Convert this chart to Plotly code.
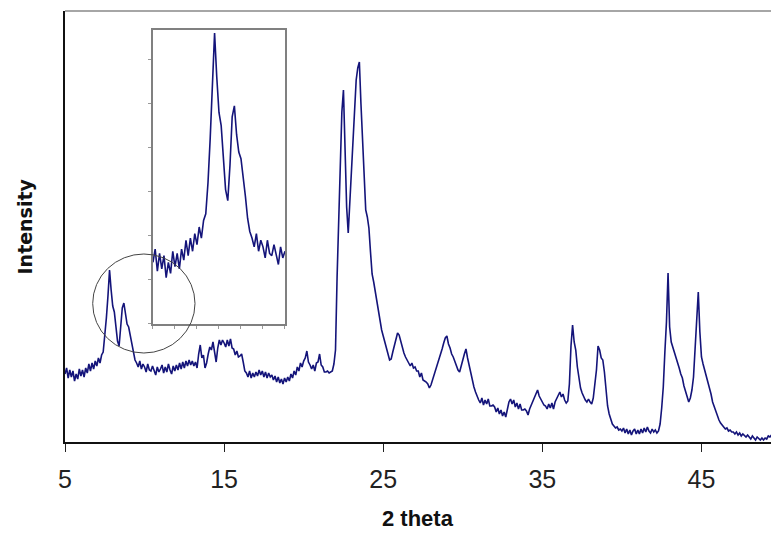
import numpy as np
import plotly.graph_objects as go

# 2-theta sampling grid (degrees), 0.1 deg step
TWO_THETA_START = 5.0
TWO_THETA_STEP = 0.1

# Intensity (arbitrary units), one row per degree
INTENSITY = [
    68, 74, 64, 72, 65, 71, 61, 68, 63, 73,            # 5
    66, 72, 65, 74, 69, 78, 71, 79, 73, 81,            # 6
    76, 84, 79, 87, 90, 104, 124, 146, 172, 152,       # 7
    136, 130, 117, 101, 96, 112, 134, 139, 126, 118,   # 8
    115, 107, 98, 88, 82, 79, 75, 81, 73, 78,          # 9
    75, 70, 78, 72, 71, 76, 71, 67, 75, 70,            # 10
    73, 77, 69, 75, 70, 78, 72, 68, 76, 71,            # 11
    77, 72, 79, 73, 80, 74, 81, 76, 82, 77,            # 12
    81, 76, 80, 74, 88, 97, 84, 87, 74, 79,            # 13
    88, 95, 92, 100, 90, 80, 94, 102, 97, 102,         # 14
    99, 95, 102, 96, 103, 94, 93, 87, 91, 85,          # 15
    86, 88, 80, 71, 69, 65, 71, 64, 69, 65,            # 16
    70, 66, 72, 67, 71, 65, 70, 64, 69, 65,            # 17
    67, 62, 66, 60, 65, 59, 63, 58, 64, 60,            # 18
    65, 61, 68, 64, 71, 67, 75, 71, 79, 75,            # 19
    81, 84, 91, 80, 77, 73, 77, 71, 79, 80,            # 20
    88, 77, 75, 70, 70, 71, 69, 70, 71, 78,            # 21
    92, 165, 228, 285, 330, 352, 278, 235, 209, 240,   # 22
    275, 310, 345, 362, 374, 380, 338, 300, 255, 232,  # 23
    225, 214, 190, 168, 160, 150, 142, 132, 120, 112,  # 24
    106, 99, 95, 88, 82, 83, 90, 97, 104, 109,         # 25
    107, 100, 94, 89, 85, 82, 80, 76, 79, 74,          # 26
    75, 71, 71, 65, 69, 62, 61, 60, 58, 54,            # 27
    57, 62, 66, 72, 76, 82, 88, 93, 99, 104,           # 28
    106, 98, 94, 88, 85, 80, 76, 72, 70, 75,           # 29
    82, 88, 93, 84, 76, 68, 62, 55, 50, 45,            # 30
    42, 39, 44, 37, 42, 38, 43, 36, 36, 37,            # 31
    35, 30, 34, 28, 32, 26, 30, 25, 33, 40,            # 32
    43, 38, 42, 35, 39, 33, 38, 32, 32, 33,            # 33
    31, 27, 33, 37, 42, 46, 50, 52, 46, 43,            # 34
    40, 37, 36, 33, 38, 34, 39, 33, 40, 44,            # 35
    47, 50, 45, 48, 42, 39, 41, 58, 96, 117,           # 36
    100, 92, 75, 62, 54, 49, 45, 42, 40, 43,           # 37
    40, 38, 44, 56, 72, 96, 92, 84, 82, 70,            # 38
    52, 36, 28, 22, 18, 16, 14, 15, 12, 13,            # 39
    11, 14, 9, 13, 8, 12, 7, 11, 13, 8,                # 40
    12, 8, 13, 9, 14, 10, 15, 11, 9, 13,               # 41
    10, 12, 9, 11, 18, 34, 55, 90, 120, 169,           # 42
    115, 100, 95, 90, 86, 80, 74, 68, 64, 56,          # 43
    50, 45, 40, 44, 52, 65, 92, 125, 150, 110,         # 44
    85, 78, 72, 66, 62, 55, 48, 40, 35, 30,            # 45
    26, 22, 19, 17, 15, 13, 14, 11, 12, 10,            # 46
    10, 8, 10, 7, 9, 6, 8, 6, 5, 7,                    # 47
    5, 3, 6, 4, 2, 5, 3, 2, 4, 2,                      # 48
    4, 3, 6, 5, 7,                                     # 49
]

X_TICKS = [5, 15, 25, 35, 45]
X_TICK_LABELS = ["5", "15", "25", "35", "45"]
X_RANGE = [5, 49.37]
Y_RANGE = [0, 431]

# Inset (zoom of the low-angle double peak)
INSET_X_RANGE = [5, 11]
INSET_Y_RANGE = [40, 173.4]

# Highlight circle around the low-angle peaks (data units)
CIRCLE_X = [6.74, 13.17]
CIRCLE_Y = [89, 188]

LINE_COLOR = "#14147a"

two_theta = np.round(TWO_THETA_START + TWO_THETA_STEP * np.arange(len(INTENSITY)), 2)
intensity = np.array(INTENSITY, dtype=float)

mask = (two_theta >= INSET_X_RANGE[0]) & (two_theta <= INSET_X_RANGE[1])

fig = go.Figure()
fig.add_trace(go.Scatter(x=two_theta, y=intensity, mode="lines",
                         line=dict(color=LINE_COLOR, width=1.6),
                         xaxis="x", yaxis="y", showlegend=False))
fig.add_trace(go.Scatter(x=two_theta[mask], y=intensity[mask], mode="lines",
                         line=dict(color=LINE_COLOR, width=1.6),
                         xaxis="x2", yaxis="y2", showlegend=False))

LABEL_FONT = "Liberation Sans Narrow, Arial Narrow, Liberation Sans, Arial"

fig.update_layout(
    width=771, height=533,
    margin=dict(l=65, r=0, t=11, b=91),
    paper_bgcolor="white", plot_bgcolor="white",
    xaxis=dict(range=X_RANGE, tickvals=X_TICKS, ticktext=X_TICK_LABELS,
               ticks="outside", ticklen=8, tickcolor="#222", tickwidth=1,
               showline=True, linecolor="#111", linewidth=1.5,
               showgrid=False, zeroline=False,
               tickfont=dict(family=LABEL_FONT, size=25, color="#222"),
               ticklabelstandoff=6),
    yaxis=dict(range=Y_RANGE, showticklabels=False, ticks="",
               showline=True, linecolor="#111", linewidth=1.5,
               showgrid=False, zeroline=False),
    xaxis2=dict(domain=[0.1246, 0.3116], anchor="y2", range=INSET_X_RANGE,
                tick0=5, dtick=1, ticks="outside", ticklen=3, tickcolor="#999",
                showticklabels=False, showline=True, mirror=True,
                linecolor="#808080", linewidth=2, showgrid=False, zeroline=False),
    yaxis2=dict(domain=[0.2738, 0.9559], anchor="x2", range=INSET_Y_RANGE,
                tick0=40, dtick=20, ticks="outside", ticklen=3, tickcolor="#999",
                showticklabels=False, showline=True, mirror=True,
                linecolor="#808080", linewidth=2, showgrid=False, zeroline=False),
    shapes=[
        dict(type="line", xref="paper", yref="paper", x0=0, x1=1, y0=1, y1=1,
             line=dict(color="#888", width=1.5)),
        dict(type="circle", xref="x", yref="y",
             x0=CIRCLE_X[0], x1=CIRCLE_X[1], y0=CIRCLE_Y[0], y1=CIRCLE_Y[1],
             line=dict(color="#444", width=1)),
    ],
    annotations=[
        dict(text="<b>2 theta</b>", xref="paper", yref="paper", x=0.5, y=-0.178,
             xanchor="center", yanchor="middle", showarrow=False,
             font=dict(family=LABEL_FONT, size=22, color="#111")),
        dict(text="<b>Intensity</b>", xref="paper", yref="paper", x=-0.0567, y=0.5,
             xanchor="center", yanchor="middle", textangle=-90, showarrow=False,
             font=dict(family="DejaVu Sans", size=19, color="#111")),
    ],
)

fig.write_html("out.html")
